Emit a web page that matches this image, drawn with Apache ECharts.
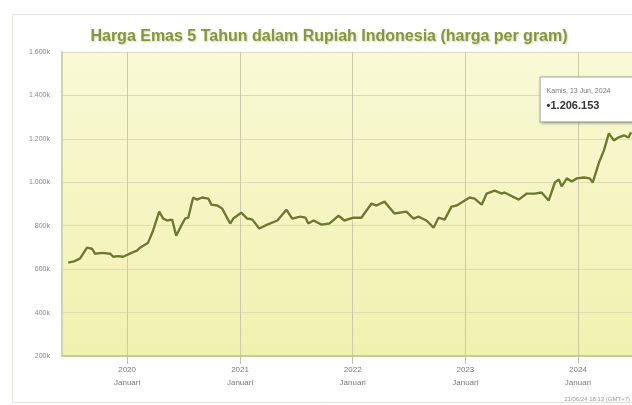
<!DOCTYPE html>
<html>
<head>
<meta charset="utf-8">
<script src="https://cdn.jsdelivr.net/npm/echarts@6/dist/echarts.min.js"></script>
<style>html,body{margin:0;padding:0;background:#fff;}#c{width:632px;height:405px;}</style>
</head>
<body>
<div id="c"></div>
<script>
const titleText = 'Harga Emas 5 Tahun dalam Rupiah Indonesia (harga per gram)';
const dates = ['2019-06-24','2019-07-13','2019-08-01','2019-08-24','2019-09-09','2019-09-19','2019-10-12','2019-11-07','2019-11-17','2019-12-03','2019-12-19',
'2020-01-17','2020-02-02','2020-02-12','2020-03-09','2020-03-25','2020-04-14','2020-04-27','2020-05-10','2020-05-26','2020-06-08','2020-06-21','2020-07-07','2020-07-17','2020-08-02','2020-08-15','2020-08-31','2020-09-20','2020-09-30','2020-10-19','2020-11-04','2020-11-30','2020-12-10',
'2021-01-05','2021-01-24','2021-02-10','2021-03-04','2021-03-30','2021-05-02','2021-05-31','2021-06-19','2021-07-15','2021-08-01','2021-08-10','2021-08-27','2021-09-22','2021-10-17','2021-11-16','2021-12-05',
'2022-01-03','2022-01-29','2022-03-03','2022-03-19','2022-04-14','2022-05-16','2022-06-24','2022-07-17','2022-08-02','2022-08-28','2022-09-20','2022-10-06','2022-10-26','2022-11-17','2022-12-04',
'2023-01-15','2023-01-31','2023-02-23','2023-03-11','2023-04-06','2023-04-29','2023-05-08','2023-06-23','2023-07-19','2023-08-14','2023-09-05','2023-09-28','2023-10-18','2023-10-31','2023-11-09','2023-11-26','2023-12-12','2023-12-28',
'2024-01-20','2024-02-08','2024-02-18','2024-03-08','2024-03-25','2024-04-10','2024-04-26','2024-05-12','2024-05-29','2024-06-13','2024-06-21'];
const prices = [630000,636000,648000,699000,694000,671000,675000,671000,657000,660000,657000,
676000,685000,699000,722000,777000,865000,833000,824000,828000,754000,791000,833000,837000,930000,920000,930000,925000,897000,893000,879000,810000,833000,
860000,833000,828000,787000,805000,824000,874000,833000,842000,837000,810000,824000,805000,810000,846000,824000,
837000,837000,902000,893000,911000,856000,865000,833000,842000,824000,791000,837000,828000,888000,893000,
930000,925000,897000,948000,962000,948000,953000,920000,948000,948000,953000,916000,999000,1013000,981000,1018000,1004000,1018000,
1022000,1018000,999000,1087000,1147000,1225000,1193000,1207000,1216000,1206153,1230000];
const yTicks = [200000,400000,600000,800000,1000000,1200000,1400000,1600000];
const tipDate = '2024-06-13';
const tipLabel = 'Kamis, 13 Jun, 2024';
const tipValue = '\u20221.206.153';
const footer = '21/06/24 18:13 (GMT+7)';

const seriesData = dates.map((d, i) => [d, prices[i]]);
const fmtK = v => { const k = v / 1000; return (k >= 1000 ? Math.floor(k/1000) + '.' + String(k % 1000).padStart(3,'0') : k) + 'k'; };

const chart = echarts.init(document.getElementById('c'), null, {renderer: 'canvas'});
chart.setOption({
  animation: false,
  title: {
    text: titleText, left: 324, top: 24, textAlign: 'center',
    textStyle: {fontFamily: 'Liberation Sans', fontSize: 16, fontWeight: 'bold', color: '#87963a',
      textShadowColor: 'rgba(120,130,60,0.35)', textShadowBlur: 2, textShadowOffsetX: 1, textShadowOffsetY: 1}
  },
  graphic: [
    {type: 'rect', shape: {x: 12.5, y: 14.5, width: 640, height: 388}, style: {fill: 'none', stroke: '#e2e2dc', lineWidth: 1}, z: -10},
    {type: 'text', right: 2, bottom: 3, style: {text: footer, fontSize: 6, fill: '#999', fontFamily: 'Liberation Sans'}}
  ],
  grid: {left: 62, right: 0, top: 52, bottom: 49, show: true, borderWidth: 0,
    backgroundColor: {type: 'linear', x: 0, y: 0, x2: 0, y2: 1, colorStops: [{offset: 0, color: '#f9f9d6'}, {offset: 1, color: '#f1f1ae'}]}},
  xAxis: {
    type: 'time', min: '2019-06-04', max: '2024-06-24', splitNumber: 5,
    axisLine: {show: true, lineStyle: {color: '#c9c9a2', width: 2}},
    axisTick: {show: true, length: 8, lineStyle: {color: '#c0c0a8'}},
    splitLine: {show: true, lineStyle: {color: '#cbcbaa', width: 1}},
    axisLabel: {
      showMinLabel: false, showMaxLabel: false, margin: 7, lineHeight: 13,
      fontSize: 8, color: '#777', fontFamily: 'Liberation Sans',
      formatter: v => { const d = new Date(v); return (d.getMonth() === 0 && d.getDate() === 1) ? d.getFullYear() + '\nJanuari' : ''; }
    }
  },
  yAxis: {
    type: 'value', min: 200000, max: 1600000, interval: 200000,
    axisLine: {show: true, lineStyle: {color: '#d2d2b4', width: 2}},
    axisTick: {show: false},
    splitLine: {lineStyle: {color: '#dcdcb4', width: 1}},
    axisLabel: {fontSize: 7, color: '#888', margin: 12, fontFamily: 'Liberation Sans',
      formatter: v => yTicks.includes(v) ? fmtK(v) : ''}
  },
  series: [{
    type: 'line', data: seriesData, symbol: 'none', smooth: false,
    lineStyle: {color: '#6c7a2a', width: 2.4, shadowColor: 'rgba(255,255,230,0.9)', shadowBlur: 3},
    markPoint: {
      symbol: 'circle', symbolSize: 4, itemStyle: {color: 'rgba(0,0,0,0)'},
      data: [{coord: [tipDate, prices[dates.indexOf(tipDate)]]}],
      label: {
        show: true, position: [-86, -58], align: 'left',
        backgroundColor: '#fff', borderColor: '#a8a8a8', borderWidth: 1,
        padding: [7, 6, 7, 6], width: 100,
        shadowColor: 'rgba(0,0,0,0.25)', shadowBlur: 3, shadowOffsetX: 1, shadowOffsetY: 1,
        formatter: () => '{a|' + tipLabel + '}\n{b|' + tipValue + '}',
        rich: {
          a: {fontSize: 7, color: '#777', fontFamily: 'Liberation Sans', lineHeight: 13},
          b: {fontSize: 11, color: '#333', fontWeight: 'bold', fontFamily: 'Liberation Sans', lineHeight: 17}
        }
      }
    }
  }]
});
</script>
</body>
</html>
